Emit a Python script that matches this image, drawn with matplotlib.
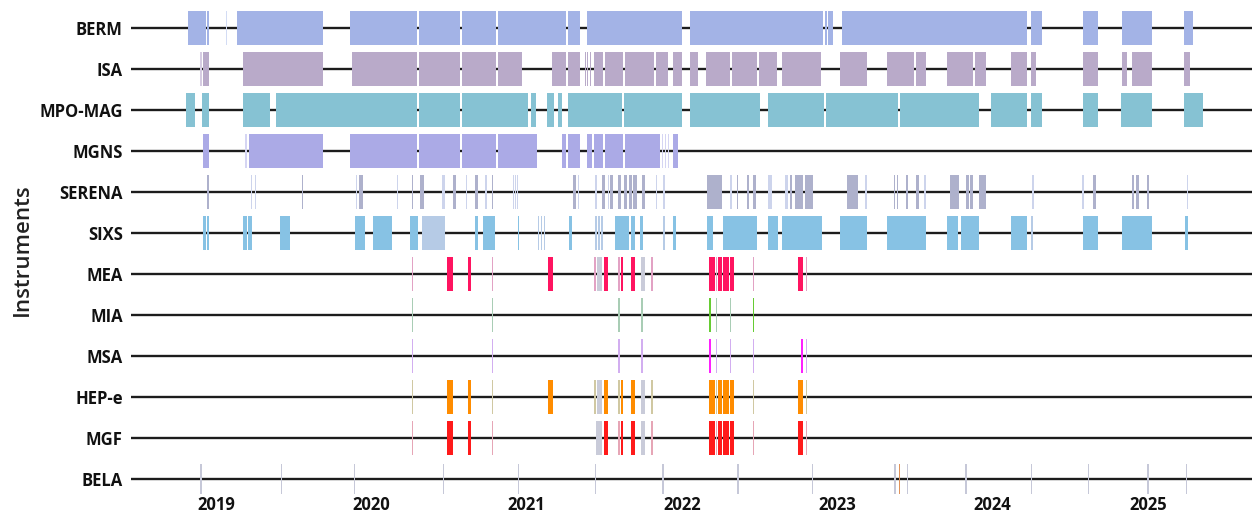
import matplotlib
matplotlib.use("Agg")
import matplotlib.pyplot as plt

# ---------------- data (decimal years) ----------------
instruments = ["BERM", "ISA", "MPO-MAG", "MGNS", "SERENA", "SIXS",
               "MEA", "MIA", "MSA", "HEP-e", "MGF", "BELA"]
year_ticks = [2019, 2020, 2021, 2022, 2023, 2024, 2025]
x_range = (2018.453, 2025.671)

berm = [(2018.820, 2018.936), (2018.942, 2018.955), (2019.135, 2019.689),
        (2019.863, 2020.294), (2020.307, 2020.571), (2020.584, 2020.803),
        (2020.816, 2021.254), (2021.267, 2021.344), (2021.389, 2022.001),
        (2022.052, 2022.909), (2022.922, 2022.934), (2022.941, 2022.973),
        (2023.031, 2024.222), (2024.248, 2024.319), (2024.583, 2024.679),
        (2024.834, 2025.027), (2025.233, 2025.291)]
berm_faint = [(2019.064, 2019.071)]

isa = [(2018.916, 2018.955), (2019.174, 2019.689),
       (2019.876, 2020.294), (2020.307, 2020.571), (2020.584, 2020.803),
       (2020.816, 2020.971), (2021.164, 2021.254), (2021.267, 2021.344),
       (2021.376, 2021.383), (2021.389, 2021.396), (2021.408, 2021.415),
       (2021.434, 2021.492), (2021.505, 2021.621), (2021.634, 2021.821),
       (2021.833, 2021.911), (2021.943, 2022.001), (2022.052, 2022.104),
       (2022.155, 2022.310), (2022.323, 2022.484), (2022.497, 2022.613),
       (2022.645, 2022.896), (2023.018, 2023.192), (2023.321, 2023.494),
       (2023.507, 2023.572), (2023.707, 2023.874), (2023.887, 2023.958),
       (2024.119, 2024.222), (2024.248, 2024.280), (2024.583, 2024.679),
       (2024.834, 2024.866), (2024.899, 2025.027), (2025.233, 2025.272)]
isa_faint = [(2018.897, 2018.910)]

mpo_mag = [(2018.807, 2018.865), (2018.910, 2018.955), (2019.174, 2019.348),
           (2019.386, 2020.294), (2020.307, 2020.571), (2020.584, 2021.009),
           (2021.028, 2021.061), (2021.131, 2021.177), (2021.202, 2021.228),
           (2021.267, 2021.615), (2021.628, 2022.001), (2022.052, 2022.503),
           (2022.555, 2022.915), (2022.928, 2023.392), (2023.404, 2023.913),
           (2023.990, 2024.222), (2024.248, 2024.319), (2024.583, 2024.679),
           (2024.828, 2025.027), (2025.233, 2025.356)]
mpo_mag_faint = []

mgns = [(2018.916, 2018.955), (2019.213, 2019.689),
        (2019.863, 2020.294), (2020.307, 2020.571), (2020.584, 2020.803),
        (2020.816, 2021.067), (2021.228, 2021.254), (2021.267, 2021.344),
        (2021.389, 2021.421), (2021.434, 2021.492), (2021.505, 2021.621),
        (2021.634, 2021.859), (2021.943, 2021.975)]
mgns_faint = [(2019.187, 2019.200), (2021.872, 2021.878),
              (2021.891, 2021.897), (2021.911, 2021.917)]

serena = [(2018.942, 2018.955), (2019.554, 2019.560), (2019.921, 2019.947),
          (2020.262, 2020.269), (2020.314, 2020.340), (2020.526, 2020.546),
          (2020.668, 2020.687), (2020.777, 2020.784), (2021.299, 2021.318),
          (2021.486, 2021.505), (2021.537, 2021.556), (2021.589, 2021.608),
          (2021.627, 2021.647), (2021.659, 2021.679), (2021.685, 2021.711),
          (2021.743, 2021.763), (2022.162, 2022.258), (2022.355, 2022.361),
          (2022.419, 2022.432), (2022.458, 2022.477), (2022.696, 2022.709),
          (2022.728, 2022.780), (2022.793, 2022.844), (2023.063, 2023.134),
          (2023.366, 2023.372), (2023.385, 2023.392), (2023.443, 2023.456),
          (2023.507, 2023.527), (2023.727, 2023.784), (2023.829, 2023.849),
          (2023.855, 2023.874), (2023.913, 2023.958), (2024.647, 2024.667),
          (2024.899, 2024.911), (2024.924, 2024.944), (2024.995, 2025.008)]
serena_faint = [(2019.225, 2019.232), (2019.251, 2019.258), (2019.902, 2019.908),
                (2020.166, 2020.172), (2020.455, 2020.475), (2020.610, 2020.616),
                (2020.732, 2020.745), (2020.913, 2020.919), (2020.926, 2020.932),
                (2020.939, 2020.945), (2021.331, 2021.338), (2021.441, 2021.453),
                (2021.524, 2021.530), (2021.833, 2021.840), (2021.878, 2021.891),
                (2022.310, 2022.323), (2022.555, 2022.580), (2022.664, 2022.683),
                (2023.179, 2023.192), (2023.559, 2023.572), (2024.255, 2024.268),
                (2024.577, 2024.590), (2025.253, 2025.259)]

sixs = [(2018.916, 2018.936), (2018.942, 2018.955), (2019.174, 2019.200),
        (2019.206, 2019.232), (2019.412, 2019.477), (2019.895, 2019.960),
        (2020.011, 2020.133), (2020.249, 2020.301), (2020.668, 2020.687),
        (2020.719, 2020.797), (2020.945, 2020.951), (2021.273, 2021.293),
        (2021.569, 2021.659), (2021.672, 2021.698), (2021.730, 2021.750),
        (2021.943, 2021.962), (2022.162, 2022.200), (2022.265, 2022.484),
        (2022.555, 2022.619), (2022.645, 2022.902), (2023.018, 2023.192),
        (2023.321, 2023.572), (2023.707, 2023.778), (2023.797, 2023.913),
        (2024.119, 2024.222), (2024.583, 2024.679), (2024.834, 2025.027),
        (2025.240, 2025.259)]
sixs_faint = [(2020.327, 2020.475), (2021.074, 2021.080), (2021.093, 2021.099),
              (2021.112, 2021.119), (2021.441, 2021.453), (2021.460, 2021.473),
              (2021.479, 2021.492), (2021.878, 2021.891), (2024.248, 2024.261)]

mea = [(2020.488, 2020.526), (2020.623, 2020.642), (2021.138, 2021.170),
       (2021.499, 2021.524), (2021.608, 2021.621), (2021.672, 2021.698),
       (2022.175, 2022.213), (2022.233, 2022.258), (2022.265, 2022.303),
       (2022.310, 2022.336), (2022.748, 2022.780)]
mea_faint = [(2020.262, 2020.269), (2020.777, 2020.784), (2021.434, 2021.447),
             (2021.589, 2021.602), (2021.801, 2021.814), (2022.220, 2022.226),
             (2022.458, 2022.465), (2022.799, 2022.806)]
mea_grey = [(2021.453, 2021.486), (2021.737, 2021.763)]

mia = [(2022.175, 2022.187), (2022.458, 2022.465)]
mia_faint = [(2020.262, 2020.269), (2020.777, 2020.784), (2021.589, 2021.602),
             (2021.737, 2021.750), (2022.220, 2022.226), (2022.310, 2022.316)]
mia_grey = []

msa = [(2022.175, 2022.187), (2022.767, 2022.780)]
msa_faint = [(2020.262, 2020.269), (2020.777, 2020.784), (2021.589, 2021.602),
             (2021.737, 2021.750), (2022.220, 2022.226), (2022.310, 2022.316),
             (2022.458, 2022.465), (2022.799, 2022.806)]
msa_grey = []

hep_e = [(2020.488, 2020.526), (2020.623, 2020.642), (2021.138, 2021.170),
         (2021.499, 2021.524), (2021.608, 2021.621), (2021.672, 2021.698),
         (2022.175, 2022.213), (2022.233, 2022.258), (2022.265, 2022.303),
         (2022.310, 2022.336), (2022.748, 2022.780)]
hep_e_faint = [(2020.262, 2020.269), (2020.777, 2020.784), (2021.434, 2021.447),
               (2021.589, 2021.602), (2021.801, 2021.814), (2022.220, 2022.226),
               (2022.458, 2022.465), (2022.799, 2022.806)]
hep_e_grey = [(2021.453, 2021.486), (2021.737, 2021.763)]

mgf = [(2020.488, 2020.526), (2020.623, 2020.642), (2021.499, 2021.524),
       (2021.608, 2021.621), (2021.672, 2021.698), (2022.175, 2022.213),
       (2022.233, 2022.258), (2022.265, 2022.303), (2022.310, 2022.336),
       (2022.748, 2022.780)]
mgf_faint = [(2020.262, 2020.269), (2020.777, 2020.784), (2021.589, 2021.602),
             (2021.801, 2021.814), (2022.220, 2022.226), (2022.458, 2022.465),
             (2022.799, 2022.806)]
mgf_grey = [(2021.447, 2021.486), (2021.737, 2021.763)]

bela_events = [2018.903, 2019.419, 2019.889, 2020.462, 2020.945, 2021.441,
               2021.878, 2022.361, 2022.838, 2023.372, 2023.450, 2023.829,
               2024.248, 2024.615, 2025.001, 2025.246]
bela_special = [2023.398]

# ---------------- styling ----------------
rows = [
    (berm, berm_faint, [], "#a3b3e6", "#d3dcf4", None),
    (isa, isa_faint, [], "#b9aac9", "#d6cce2", None),
    (mpo_mag, mpo_mag_faint, [], "#86c2d3", "#bfe0ea", None),
    (mgns, mgns_faint, [], "#abaae6", "#d5d5f3", None),
    (serena, serena_faint, [], "#aeb1cc", "#cdd4ec", None),
    (sixs, sixs_faint, [], "#87c2e4", "#b6cbe6", None),
    (mea, mea_faint, mea_grey, "#ff1460", "#e2a2c4", "#c9cbd9"),
    (mia, mia_faint, mia_grey, "#66cc33", "#a9cdb5", "#c9cbd9"),
    (msa, msa_faint, msa_grey, "#ff1fff", "#d2aef0", "#c9cbd9"),
    (hep_e, hep_e_faint, hep_e_grey, "#ff8c00", "#d0c8a2", "#c9cbd9"),
    (mgf, mgf_faint, mgf_grey, "#ff1a1a", "#e6a6b6", "#c9cbd9"),
]

W, H, DPI = 1252, 518, 100
AX_TOP, AX_BOT = 8, 490
fig = plt.figure(figsize=(W / DPI, H / DPI), dpi=DPI)
ax = fig.add_axes([131 / W, (H - AX_BOT) / H, 1 - 131 / W, (AX_BOT - AX_TOP) / H])

bar_h = 0.82
min_w = 0.009

def spans(lst):
    return [(s, max(e - s, min_w)) for s, e in lst]

for i, name in enumerate(instruments):
    ax.axhline(i, color="#1c1c1c", lw=1.7, zorder=1)

for i, (main, faint, grey, c_main, c_faint, c_grey) in enumerate(rows):
    y0 = i - bar_h / 2
    if faint:
        ax.broken_barh(spans(faint), (y0, bar_h), facecolors=c_faint, lw=0, zorder=2)
    if grey:
        ax.broken_barh(spans(grey), (y0, bar_h), facecolors=c_grey, lw=0, zorder=2)
    if main:
        ax.broken_barh(spans(main), (y0, bar_h), facecolors=c_main, lw=0, zorder=3)

bi = instruments.index("BELA")
bh = 0.74
ax.broken_barh([(t - 0.003, 0.007) for t in bela_events], (bi - bh / 2, bh),
               facecolors="#c6c8d8", lw=0, zorder=2, clip_on=False)
ax.broken_barh([(t - 0.003, 0.008) for t in bela_special], (bi - bh / 2, bh),
               facecolors="#e0925a", lw=0, zorder=3, clip_on=False)

ax.set_xlim(*x_range)
ax.set_ylim((AX_BOT - 28) / 41, (AX_TOP - 28) / 41)
ax.set_yticks(range(len(instruments)))
ax.set_yticklabels(instruments)
ax.set_xticks(year_ticks)
ax.set_xticklabels([str(y) for y in year_ticks])
for lab in ax.get_yticklabels() + ax.get_xticklabels():
    lab.set_fontfamily(["Open Sans", "DejaVu Sans"])
    lab.set_fontweight("bold")
    lab.set_fontsize(12)
    lab.set_color("#111111")
ax.tick_params(axis="both", length=0)
ax.tick_params(axis="y", pad=6)
ax.tick_params(axis="x", pad=4)
for sp in ax.spines.values():
    sp.set_visible(False)

fig.text(22 / W, 1 - 250 / H, "Instruments", rotation=90, ha="center", va="center",
         fontsize=16, fontweight="semibold", family=["Open Sans", "DejaVu Sans"],
         color="#222222")

fig.savefig("out.png", dpi=DPI, facecolor="white")
